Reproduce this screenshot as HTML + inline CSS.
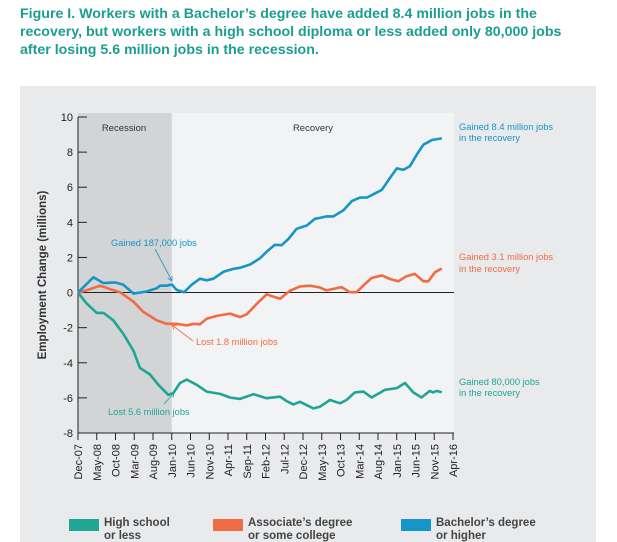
<!DOCTYPE html>
<html><head><meta charset="utf-8"><style>
body{margin:0;width:617px;height:542px;overflow:hidden;background:#fff;font-family:"Liberation Sans",sans-serif}
.title{position:absolute;left:20px;top:5px;width:565px;color:#1a9e8f;font-weight:bold;font-size:14.2px;line-height:18px}
</style></head><body>
<div class="title">Figure I. Workers with a Bachelor’s degree have added 8.4 million jobs in the recovery, but workers with a high school diploma or less added only 80,000 jobs after losing 5.6 million jobs in the recession.</div>
<svg id="chart" width="617" height="542" style="position:absolute;left:0;top:0">
<rect x="20" y="86" width="576" height="456" fill="#e9eaec"/>
</svg>
<script>
const months = ["Dec-07","May-08","Oct-08","Mar-09","Aug-09","Jan-10","Jun-10","Nov-10","Apr-11","Sep-11","Feb-12","Jul-12","Dec-12","May-13","Oct-13","Mar-14","Aug-14","Jan-15","Jun-15","Nov-15","Apr-16"];
const yTicks = [10,8,6,4,2,0,-2,-4,-6,-8];
const bachMonths = [0,4.1,6.8,9.9,12.1,14.8,18.3,21.0,21.9,23.6,25.0,26.3,28.3,30.3,32.5,34.3,36.1,38.8,41.4,43.2,45.9,48.5,50.3,52.5,54.3,56.1,58.3,61.0,63.2,64.5,66.3,68.1,70.8,73.0,75.2,77.0,78.8,81.0,83.2,85.0,86.8,88.5,90.3,92.1,94.4,97.0];
const bachVals = [0,0.87,0.54,0.58,0.44,-0.06,0.06,0.25,0.39,0.39,0.46,0.15,0.02,0.44,0.79,0.7,0.79,1.18,1.35,1.41,1.6,1.95,2.32,2.72,2.7,3.05,3.63,3.82,4.2,4.25,4.34,4.34,4.69,5.21,5.41,5.41,5.6,5.85,6.53,7.07,6.99,7.2,7.84,8.42,8.69,8.78];
const assocMonths = [0,2.2,5.9,8.6,11.2,14.8,17.4,21.0,23.6,26.3,29.0,30.8,32.5,34.3,37.0,40.5,43.2,45.0,47.6,50.3,52.1,53.9,56.5,59.2,61.9,64.5,66.3,68.1,70.3,72.5,74.3,76.1,78.3,81.0,83.2,85.4,87.6,89.8,92.1,93.4,95.2,97.0];
const assocVals = [0,0.12,0.39,0.19,0.02,-0.52,-1.1,-1.58,-1.78,-1.78,-1.87,-1.78,-1.81,-1.49,-1.33,-1.2,-1.39,-1.24,-0.66,-0.1,-0.23,-0.35,0.1,0.35,0.39,0.29,0.12,0.21,0.31,0.02,0.02,0.41,0.83,0.98,0.77,0.64,0.93,1.06,0.64,0.64,1.16,1.37];
const hsMonths = [0,2.3,5.0,6.8,9.4,12.1,14.8,16.5,19.2,21.4,24.1,25.4,27.2,29.0,31.6,34.3,37.9,40.5,43.2,46.8,50.3,53.9,55.6,57.4,59.2,61.9,62.8,64.5,67.2,69.9,71.6,73.8,76.1,78.3,81.9,85.0,87.2,89.4,91.6,93.8,94.7,95.6,97.0];
const hsVals = [0,-0.62,-1.16,-1.16,-1.58,-2.36,-3.32,-4.29,-4.67,-5.25,-5.83,-5.73,-5.15,-4.96,-5.25,-5.64,-5.77,-5.98,-6.06,-5.79,-6.02,-5.93,-6.18,-6.37,-6.22,-6.51,-6.6,-6.5,-6.12,-6.31,-6.12,-5.69,-5.64,-5.98,-5.54,-5.44,-5.15,-5.69,-5.98,-5.6,-5.69,-5.6,-5.68];

const NS="http://www.w3.org/2000/svg", svg=document.getElementById('chart');
const X0=78,X1=453,Y0=117,Y1=433;
const xs=m=>X0+m*(X1-X0)/100;
const ys=v=>Y0+(10-v)*(Y1-Y0)/18;
function mk(t,a,p){const e=document.createElementNS(NS,t);for(const k in a)e.setAttribute(k,a[k]);(p||svg).appendChild(e);return e;}
function txt(s,a){const e=mk('text',a);e.textContent=s;return e;}

let e=mk('rect',{x:X0,y:Y0-4,width:454-X0,height:Y1-Y0+4,fill:'#f2f3f5'});


e=mk('rect',{x:X0,y:Y0-4,width:xs(25)-X0,height:Y1-Y0+4,fill:'#d3d4d6'});


e=txt('Recession',{x:124,y:131,'font-size':9.5,'text-anchor':'middle',fill:'#333'});


e=txt('Recovery',{x:313,y:131,'font-size':9.5,'text-anchor':'middle',fill:'#333'});



e=mk('line',{x1:X0,y1:Y0,x2:X0,y2:Y1,stroke:'#222','stroke-width':1});


e=mk('line',{x1:X0,y1:Y1,x2:454,y2:Y1,stroke:'#222','stroke-width':1});


e=mk('line',{x1:X0,y1:ys(0),x2:454,y2:ys(0),stroke:'#222','stroke-width':1});


yTicks.forEach(v=>{
  const t=mk('line',{x1:X0,y1:ys(v),x2:X0+9,y2:ys(v),stroke:'#222'});
  
  
  const l=txt(String(v),{x:73,y:ys(v)+4,'font-size':11,'text-anchor':'end',fill:'#222'});
  
  
});
months.forEach((m,i)=>{
  const x=xs(i*5);
  const t=mk('line',{x1:x,y1:Y1,x2:x,y2:Y1+7,stroke:'#222'});
  
  
  const l=txt(m,{x:0,y:0,'font-size':11,'text-anchor':'end',fill:'#222',transform:`translate(${x+4},${Y1+11}) rotate(-90)`});
  
  
});
e=txt('Employment Change (millions)',{x:0,y:0,'font-size':11.5,'font-weight':'bold','text-anchor':'middle',fill:'#333',transform:'translate(46,275) rotate(-90)'});



function series(ms,vs,col,name){
  const d=ms.map((m,i)=>(i?'L':'M')+xs(m).toFixed(1)+','+ys(vs[i]).toFixed(1)).join('');
  const p=mk('path',{d:d,fill:'none',stroke:col,'stroke-width':2.6,'stroke-linejoin':'round'});
  
  
}
series(hsMonths,hsVals,'#1fa595','line-high-school');
series(assocMonths,assocVals,'#ef6c45','line-associate');
series(bachMonths,bachVals,'#1595c8','line-bachelor');

function note(s,x,y,col,name){const t=txt(s,{x:x,y:y,'font-size':9.3,fill:col});return t;}
function arrow(x1,y1,x2,y2,col,name){const l=mk('line',{x1:x1,y1:y1,x2:x2,y2:y2,stroke:col,'stroke-width':0.8});
  const a=Math.atan2(y2-y1,x2-x1),h=5;
  mk('path',{d:`M${x2-h*Math.cos(a-0.5)},${y2-h*Math.sin(a-0.5)}L${x2},${y2}L${x2-h*Math.cos(a+0.5)},${y2-h*Math.sin(a+0.5)}`,fill:'none',stroke:col,'stroke-width':0.8});}
note('Gained 187,000 jobs',111,246,'#1595c8','note-bachelor-recession');
arrow(155,249,172,281,'#1595c8','arrow-bachelor');
note('Lost 1.8 million jobs',196,345,'#ef6c45','note-associate-recession');
arrow(193,341,172,325,'#ef6c45','arrow-associate');
note('Lost 5.6 million jobs',108,415,'#1fa595','note-hs-recession');
arrow(164,404,174,393,'#1fa595','arrow-hs');
note('Gained 8.4 million jobs',459,130,'#1595c8','note-bachelor-recovery');
note('in the recovery',459,141,'#1595c8','note-bachelor-recovery-2');
note('Gained 3.1 million jobs',459,260,'#ef6c45','note-associate-recovery');
note('in the recovery',459,272,'#ef6c45','note-associate-recovery-2');
note('Gained 80,000 jobs',459,385,'#1fa595','note-hs-recovery');
note('in the recovery',459,396,'#1fa595','note-hs-recovery-2');

const legend=[['#1fa595','High school','or less',69,'legend-high-school'],['#ef6c45','Associate’s degree','or some college',213,'legend-associate'],['#1595c8','Bachelor’s degree','or higher',401,'legend-bachelor']];
legend.forEach(([c,a,b,x,n])=>{
  const g=mk('g',{});
  
  
  mk('rect',{x:x,y:519,width:30,height:12,fill:c},g);
  const t1=mk('text',{x:x+35,y:526,'font-size':11.5,'font-weight':'bold',fill:'#444'},g);t1.textContent=a;
  const t2=mk('text',{x:x+35,y:539,'font-size':11.5,'font-weight':'bold',fill:'#444'},g);t2.textContent=b;
});
</script>
</body></html>
